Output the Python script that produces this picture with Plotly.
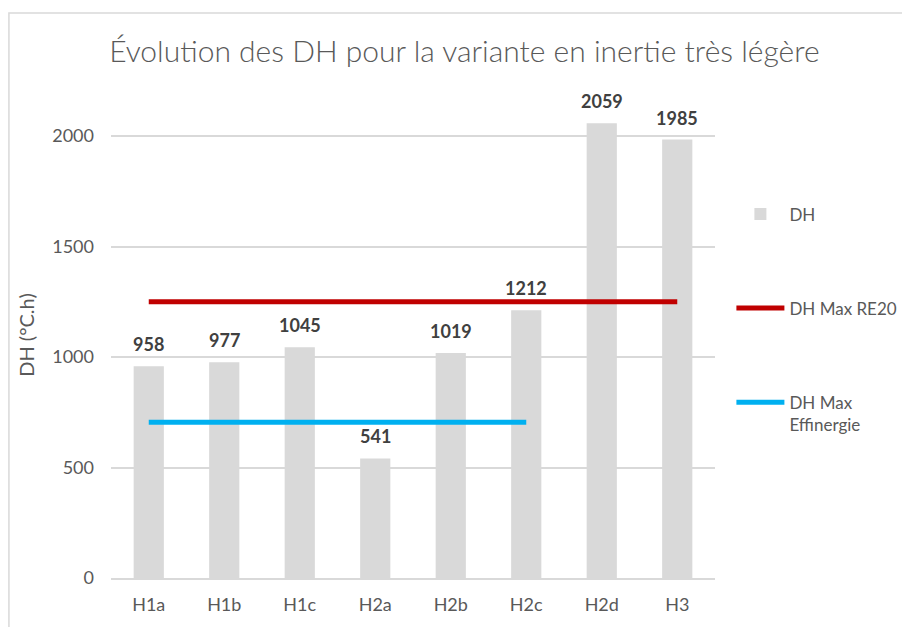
import plotly.graph_objects as go

categories = ["H1a", "H1b", "H1c", "H2a", "H2b", "H2c", "H2d", "H3"]
dh_values = [958, 977, 1045, 541, 1019, 1212, 2059, 1985]
dh_max_re20 = [1250, 1250, 1250, 1250, 1250, 1250, 1250, 1250]
dh_max_effinergie = [705, 705, 705, 705, 705, 705, None, None]
y_ticks = [0, 500, 1000, 1500, 2000]

FONT = "Lato"
GRAY = "#595959"

fig = go.Figure()
fig.add_trace(go.Bar(
    x=categories, y=dh_values, name="DH",
    marker=dict(color="#d9d9d9", line=dict(width=0)),
    legendgroup="a",
))
fig.add_trace(go.Scatter(
    x=categories, y=dh_max_re20, name="DH Max RE20", mode="lines",
    line=dict(color="#c00000", width=5), legendgroup="b",
))
fig.add_trace(go.Scatter(
    x=categories, y=dh_max_effinergie, name="DH Max<br>Effinergie", mode="lines",
    line=dict(color="#00b0f0", width=5), legendgroup="c",
))

for c, v in zip(categories, dh_values):
    fig.add_annotation(
        x=c, y=v, text=f"<b>{v}</b>", showarrow=False,
        yanchor="bottom", yshift=9,
        font=dict(family=FONT, size=18, color="#404040"),
    )

fig.add_shape(
    type="rect", xref="paper", yref="paper",
    x0=-0.169, x1=2, y0=-1, y1=1.1626,
    line=dict(color="#d9d9d9", width=1.5), fillcolor="rgba(0,0,0,0)", layer="below",
)

fig.update_layout(
    width=902, height=619,
    margin=dict(l=103, r=195, t=84, b=49, autoexpand=False),
    paper_bgcolor="white", plot_bgcolor="white",
    title=dict(
        text="Évolution des DH pour la variante en inertie très légère",
        x=0.506, xanchor="center", xref="container", y=0.93, yanchor="middle",
        font=dict(family=FONT, size=30, color=GRAY, weight=300),
    ),
    bargap=0.6,
    font=dict(family=FONT, color=GRAY, size=18),
    xaxis=dict(
        showgrid=False, showline=True, linecolor="#d9d9d9", linewidth=1.5,
        ticks="", tickfont=dict(family=FONT, size=18, color=GRAY),
        ticklabelstandoff=10,
    ),
    yaxis=dict(
        range=[0, 2200], tickvals=y_ticks, showgrid=True, gridcolor="#d9d9d9",
        gridwidth=1.5, zeroline=False, showline=False, ticks="",
        tickfont=dict(family=FONT, size=18, color=GRAY),
        ticklabelstandoff=16,
        title=dict(text="DH (°C.h)", font=dict(family=FONT, size=20, color=GRAY), standoff=12),
    ),
    legend=dict(
        xref="container", yref="container",
        x=0.802, y=0.6956, xanchor="left", yanchor="top",
        tracegroupgap=69, valign="top", itemwidth=48,
        font=dict(family=FONT, size=17, color=GRAY),
        bgcolor="rgba(0,0,0,0)",
    ),
)

fig.write_html("out.html")
